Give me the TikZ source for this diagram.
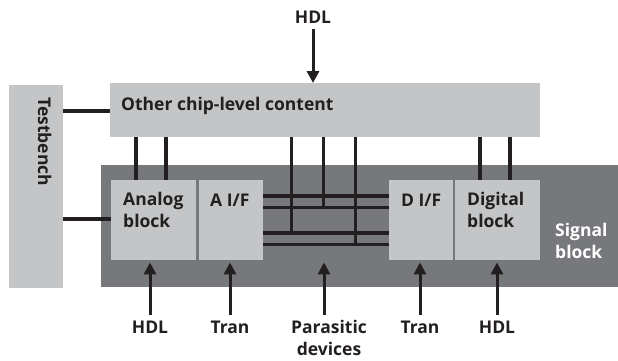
\documentclass[tikz,border=0pt]{standalone}
\usepackage{fontspec}
\setmainfont{Open Sans}
\usetikzlibrary{arrows.meta}
\definecolor{lightg}{HTML}{C4C5C7}
\definecolor{darkg}{HTML}{77787B}
\definecolor{ink}{HTML}{231F20}
\begin{document}
\begin{tikzpicture}[x=1pt,y=-1pt,
  font=\bfseries\fontsize{17.5}{22}\selectfont,
  lbox/.style={fill=lightg,draw=none,inner sep=0pt,anchor=north west},
  dbox/.style={fill=darkg,draw=none,inner sep=0pt,anchor=north west},
  txt/.style={text=ink,inner sep=0pt,anchor=base west,align=left},
  lab/.style={text=ink,inner sep=0pt,align=center},
  wire/.style={draw=ink,line width=3.2pt},
  arr/.style={draw=ink,line width=3pt,-{Triangle[length=12pt,width=12pt]}}]
\useasboundingbox (0,0) rectangle (618,360);
% boxes
\node[lbox,minimum width=54pt,minimum height=203pt] (tb) at (9,85) {};
\node[lbox,minimum width=430pt,minimum height=54pt] (oc) at (110,83) {};
\node[dbox,minimum width=517pt,minimum height=122pt] (sb) at (101,165) {};
\node[lbox,minimum width=85pt,minimum height=80pt] (an) at (111,180) {};
\node[lbox,minimum width=64pt,minimum height=80pt] (aif) at (199,180) {};
\node[lbox,minimum width=64pt,minimum height=80pt] (dif) at (389,180) {};
\node[lbox,minimum width=85pt,minimum height=80pt] (dg) at (455,180) {};
% texts
\node[txt] (toc) at (121,110) {Other chip-level content};
\node[text=ink,inner sep=0pt,rotate=-90,anchor=base west] (ttb) at (38,97) {Testbench};
\node[txt] (tan) at (123,227) {Analog\\block};
\node[txt] (taif) at (210,206) {A I/F};
\node[txt] (tdif) at (401,206) {D I/F};
\node[txt] (tdg) at (467,227) {Digital\\block};
\node[txt,text=white] (tsb) at (555,258) {Signal\\block};
% labels
\node[lab] (hdl0) at (313,17) {HDL};
\node[lab] (hdl1) at (150,327) {HDL};
\node[lab] (tr1) at (230,327) {Tran};
\node[lab,anchor=base] (par) at (329,355) {Parasitic\\devices};
\node[lab] (tr2) at (420,327) {Tran};
\node[lab] (hdl2) at (497,327) {HDL};
% wires
\draw[wire] (tb.east |- 0,111) -- (oc.west |- 0,111);
\draw[wire] (tb.east |- 0,219) -- (an.west |- 0,219);
\draw[wire] (oc.south -| 136,0) -- (an.north -| 136,0);
\draw[wire] (oc.south -| 166,0) -- (an.north -| 166,0);
\draw[wire] (oc.south -| 480,0) -- (dg.north -| 480,0);
\draw[wire] (oc.south -| 510,0) -- (dg.north -| 510,0);
\foreach \y [count=\i] in {196,207.5,233,244.5}{
  \draw[wire] (aif.east |- 0,\y) coordinate (wl\i) -- (dif.west |- 0,\y) coordinate (wr\i);
}
\draw[wire] (oc.south -| 291.5,0) -- (wl3 -| 291.5,0);
\draw[wire] (oc.south -| 323.5,0) -- (wl2 -| 323.5,0);
\draw[wire] (oc.south -| 355.5,0) -- (wl4 -| 355.5,0);
% arrows
\coordinate (pt) at (324,315);
\coordinate (tp) at (313,29);
\draw[arr] (tp) -- (oc.north -| tp);
\draw[arr] (hdl1 |- pt) -- ([yshift=-2pt]an.south -| hdl1);
\draw[arr] (tr1 |- pt) -- ([yshift=-2pt]aif.south -| tr1);
\draw[arr] (pt) -- ([yshift=-2pt]an.south -| pt);
\draw[arr] (tr2 |- pt) -- ([yshift=-2pt]dif.south -| tr2);
\draw[arr] (hdl2 |- pt) -- ([yshift=-2pt]dg.south -| hdl2);
\end{tikzpicture}
\end{document}
